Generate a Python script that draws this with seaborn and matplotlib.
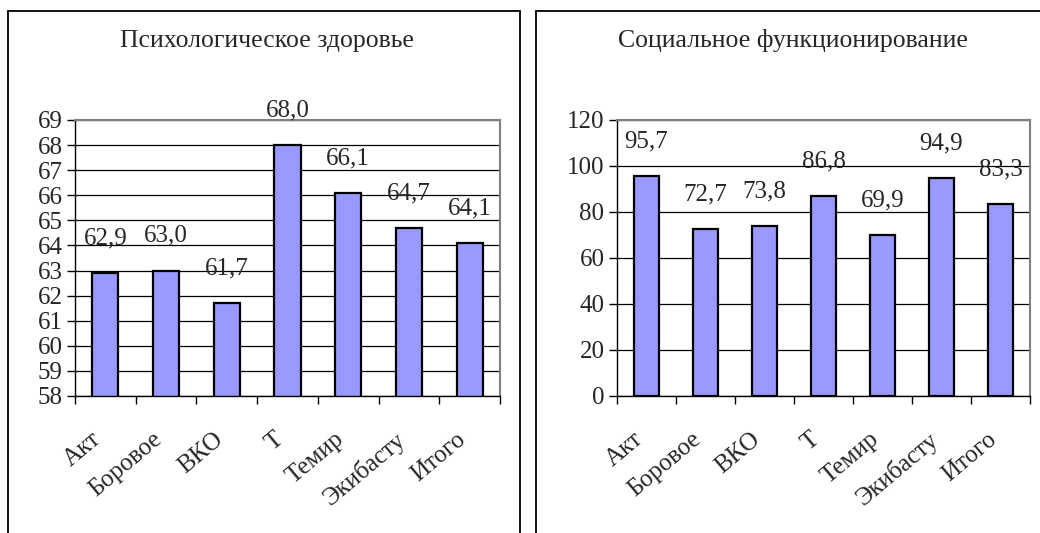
import matplotlib
matplotlib.use("Agg")
import matplotlib.pyplot as plt
import matplotlib.transforms as mtransforms
from matplotlib.patches import Rectangle
import seaborn as sns
import pandas as pd

# Regions (labels as they appear under the bars)
regions = ["Акт", "Боровое", "ВКО", "Т", "Темир", "Экибасту", "Итого"]

# Scores per region
psych_health = [62.9, 63.0, 61.7, 68.0, 66.1, 64.7, 64.1]
social_func = [95.7, 72.7, 73.8, 86.8, 69.9, 94.9, 83.3]

titles = ["Психологическое здоровье", "Социальное функционирование"]
psych_ticks = list(range(58, 70))
social_ticks = list(range(0, 121, 20))

sns.set_theme(style="white")
plt.rcParams["font.family"] = ["Liberation Serif", "DejaVu Serif"]

W, H = 1040, 533
fig = plt.figure(figsize=(W / 100, H / 100), dpi=100)
fig.patch.set_facecolor("white")


def fx(px):
    return px / W


def fy(py):
    return 1 - py / H


# chart-area frames
for x0, x1 in [(8, 520), (536, 1060)]:
    fig.patches.append(Rectangle((fx(x0), fy(560)), fx(x1 - x0), (560 - 11) / H,
                                 transform=fig.transFigure, fill=False,
                                 edgecolor="black", linewidth=1.3))

panels = [
    dict(vals=psych_health, ticks=psych_ticks, lim=(58, 69), ax=(75, 500), title_x=267),
    dict(vals=social_func, ticks=social_ticks, lim=(0, 120), ax=(617, 1030), title_x=793),
]

FS = 18

for p, title in zip(panels, titles):
    left, right = p["ax"]
    ax = fig.add_axes([fx(left), fy(396), fx(right - left), (396 - 120) / H])
    df = pd.DataFrame({"region": regions, "value": p["vals"]})
    sns.barplot(data=df, x="region", y="value", ax=ax, color="#9999FF",
                saturation=1, width=0.43, edgecolor="black", linewidth=1.6)
    ax.set_ylim(*p["lim"])
    ax.set_xlim(-0.5, len(regions) - 0.5)
    ax.set_yticks(p["ticks"])
    ax.set_yticklabels([str(t) for t in p["ticks"]], fontsize=FS)
    ax.set_xlabel("")
    ax.set_ylabel("")

    ax.yaxis.grid(True, color="black", linewidth=0.9)
    ax.set_axisbelow(True)

    for side in ["left", "bottom"]:
        ax.spines[side].set_color("black")
        ax.spines[side].set_linewidth(1.0)
    for side in ["top", "right"]:
        ax.spines[side].set_color("#808080")
        ax.spines[side].set_linewidth(1.5)

    ax.tick_params(axis="y", which="major", left=True, length=6, width=1,
                   color="black", direction="out", pad=3)
    # category boundary ticks
    ax.set_xticks([i - 0.5 for i in range(len(regions) + 1)], minor=True)
    ax.tick_params(axis="x", which="minor", bottom=True, length=6, width=1,
                   color="black", direction="out")
    ax.tick_params(axis="x", which="major", bottom=False, length=0, pad=23)

    ax.set_xticks(range(len(regions)))
    ax.set_xticklabels(regions, rotation=40, ha="right", va="top",
                       rotation_mode="anchor", fontsize=FS)
    shift = mtransforms.ScaledTranslation(-14 / 100, 0, fig.dpi_scale_trans)
    for lbl in ax.get_xticklabels():
        lbl.set_transform(lbl.get_transform() + shift)

    ax.bar_label(ax.containers[0],
                 labels=[f"{v:.1f}".replace(".", ",") for v in p["vals"]],
                 padding=17, fontsize=FS, clip_on=False)

    fig.text(fx(p["title_x"]), fy(47), title, ha="center", va="baseline", fontsize=18.5)

fig.savefig("out.png", dpi=100, facecolor="white")
